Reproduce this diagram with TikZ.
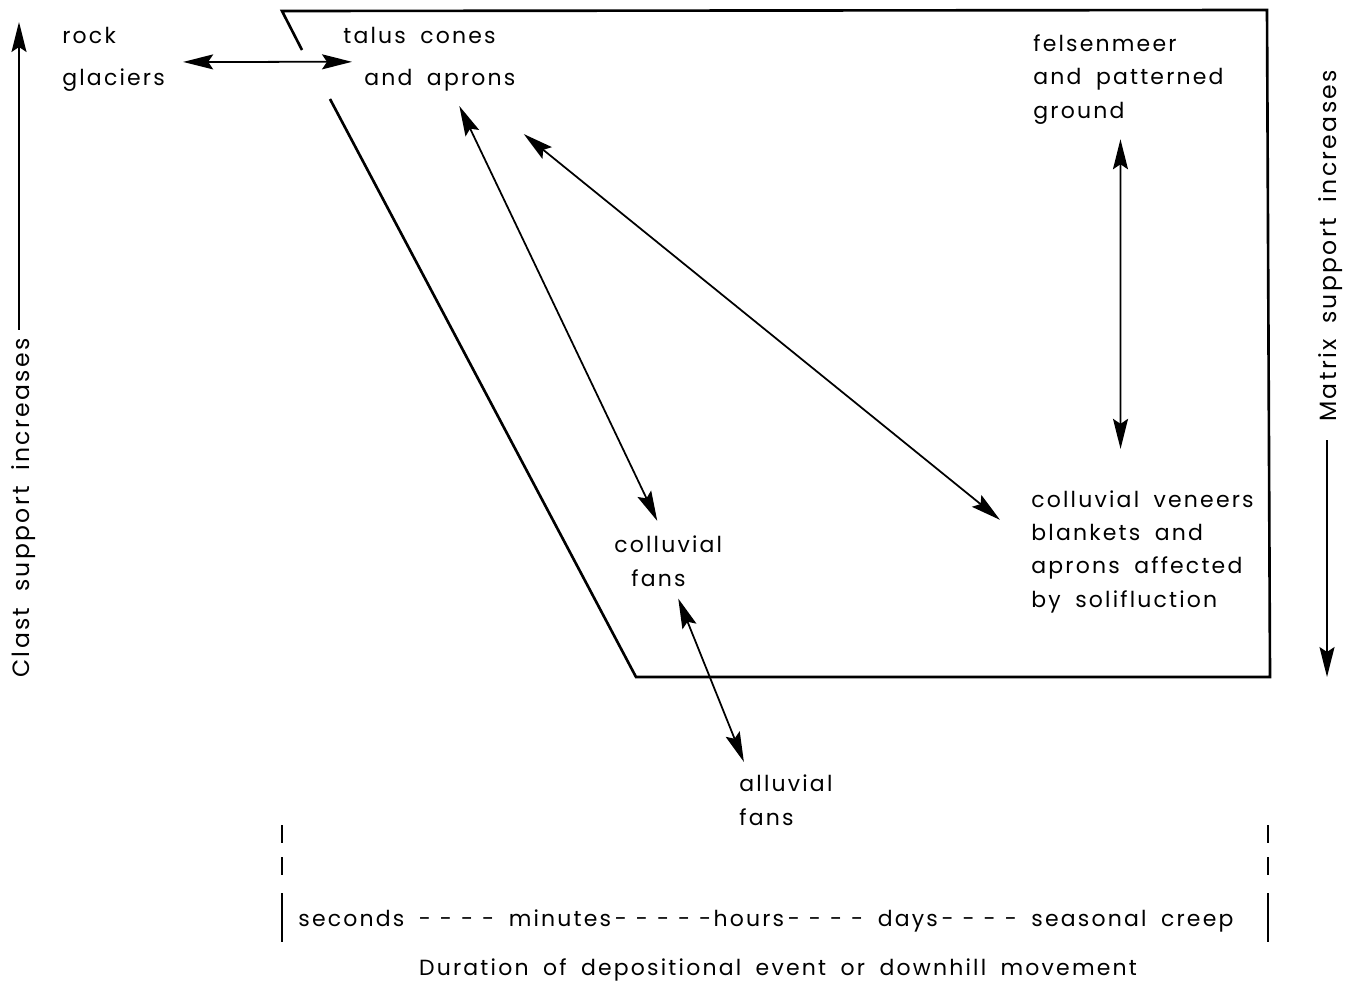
\documentclass[tikz,border=0pt]{standalone}
\usepackage{fontspec}
\usetikzlibrary{arrows.meta,positioning}
\newfontfamily\gfont[LetterSpace=10,WordSpace=1.8]{Poppins}
\newcommand{\lblfont}{\gfont\fontsize{12.5}{18.8}\selectfont}
\newcommand{\axisfont}{\gfont\fontsize{13.4}{18.8}\selectfont}
\newcommand{\dsh}{-\kern0.41em}
\tikzset{
  lbl/.style={inner sep=0pt,align=left,font=\lblfont},
  axislbl/.style={inner sep=0pt,font=\axisfont,rotate=90,anchor=base west},
  tip/.tip={Stealth[length=0.6cm,width=0.3cm,inset=0.1cm]},
  twoway/.style={tip-tip,line width=1pt},
  oneway/.style={-tip,line width=1pt},
  frame/.style={line width=1.5pt,line join=miter}
}
\begin{document}
\begin{tikzpicture}[x=0.02cm,y=-0.02cm]
\useasboundingbox (0,0) rectangle (1352,984);
% the field box
\draw[frame](302,50)--(282,11)--(1267,10)--(1270,677)--(636,677)--(330,99);
% deposits
\node[lbl,anchor=base west](rock) at (62,85){rock\\[5pt]glaciers};
\node[lbl,anchor=base west](talus) at (343,85){talus cones\\[5pt]\hspace{0.42cm}and aprons};
\node[lbl,anchor=base west](felsen) at (1033,118){felsenmeer\\and patterned\\ground};
\node[lbl,anchor=base west](veneer) at (1031,607){colluvial veneers\\blankets and\\aprons affected\\by solifluction};
\node[lbl,anchor=base west](colfan) at (614,586){colluvial\\\hspace{0.34cm}fans};
\node[lbl,anchor=base west](allfan) at (739,825){alluvial\\fans};
% links
\draw[twoway]([shift={(18,3)}]rock.east)--([shift={(9,3)}]talus.west);
\draw[twoway]([shift={(30,15)}]talus.south)--([shift={(-11,-15)}]colfan.north);
\draw[twoway]([shift={(8,43)}]talus.south east)--([shift={(-31,29)}]veneer.north west);
\draw[twoway]([shift={(-8,15)}]felsen.south)--([shift={(-22,-42)}]veneer.north);
\draw[twoway]([shift={(10,12)}]colfan.south)--([shift={(-42,-13)}]allfan.north);
% support axes
\node[axislbl](clast) at (30,678){Clast support increases};
\coordinate(clasttop) at (19,22);
\draw[oneway]([shift={(0,-8)}]clast.east-|clasttop)--(clasttop);
\node[axislbl](matrix) at (1336,422){Matrix support increases};
\coordinate(matrixend) at (1327,677);
\draw[oneway]([shift={(0,18)}]matrix.west-|matrixend)--(matrixend);
% time scale
\foreach \x in {282,1268}{
  \draw[line width=1pt](\x,825)--(\x,843);
  \draw[line width=1pt](\x,857)--(\x,875);
  \draw[line width=1pt](\x,893)--(\x,942);
}
\node[lbl,anchor=base west](scale) at (298,926){seconds \dsh\dsh\dsh- minutes\,\dsh\dsh\dsh\dsh-hours\,\dsh\dsh\dsh- days\,\dsh\dsh\dsh- seasonal creep};
\node[lbl,anchor=base](duration) at (778,975){Duration of depositional event or downhill movement};
\end{tikzpicture}
\end{document}
